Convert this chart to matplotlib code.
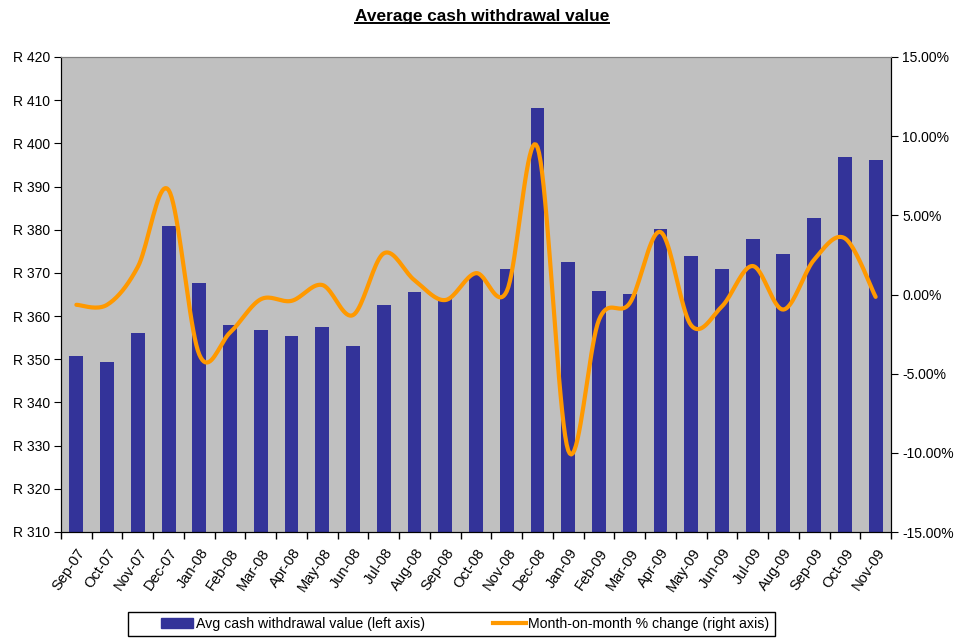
import numpy as np
import matplotlib
matplotlib.use("Agg")
import matplotlib.pyplot as plt
from matplotlib.lines import Line2D
from matplotlib.patches import Patch, Rectangle
from matplotlib.ticker import FuncFormatter, FixedLocator

plt.rcParams['font.family'] = ['Liberation Sans', 'DejaVu Sans']

months = ["Sep-07", "Oct-07", "Nov-07", "Dec-07", "Jan-08", "Feb-08", "Mar-08",
          "Apr-08", "May-08", "Jun-08", "Jul-08", "Aug-08", "Sep-08", "Oct-08",
          "Nov-08", "Dec-08", "Jan-09", "Feb-09", "Mar-09", "Apr-09", "May-09",
          "Jun-09", "Jul-09", "Aug-09", "Sep-09", "Oct-09", "Nov-09"]
avg_value = [350.8, 349.4, 356.0, 380.8, 367.6, 358.0, 356.7, 355.4, 357.5, 353.0,
             362.6, 365.5, 364.0, 369.5, 370.8, 408.3, 372.5, 365.9, 365.1, 380.2,
             373.9, 370.8, 377.8, 374.4, 382.8, 396.8, 396.2]
mom_change = [-0.65, -0.65, 1.75, 6.6, -3.8, -2.4, -0.3, -0.4, 0.6, -1.3,
              2.6, 0.9, -0.35, 1.35, 0.2, 9.3, -9.85, -1.6, -0.55, 3.95,
              -1.95, -0.75, 1.8, -0.95, 2.2, 3.55, -0.15]

left_ticks = list(range(310, 421, 10))
right_ticks = [-15, -10, -5, 0, 5, 10, 15]

title = "Average cash withdrawal value"
bar_label = "Avg cash withdrawal value (left axis)"
line_label = "Month-on-month % change (right axis)"

bar_color = "#333399"
line_color = "#FF9900"
bg_color = "#C0C0C0"


def smooth_curve(x, y, n=20):
    x = np.asarray(x, float)
    y = np.asarray(y, float)
    px = np.concatenate([[x[0]], x, [x[-1]]])
    py = np.concatenate([[y[0]], y, [y[-1]]])
    xs, ys = [], []
    t = np.linspace(0, 1, n, endpoint=False)
    for i in range(1, len(px) - 2):
        p0x, p1x, p2x, p3x = px[i - 1:i + 3]
        p0y, p1y, p2y, p3y = py[i - 1:i + 3]
        c1x = p1x + (p2x - p0x) / 6
        c1y = p1y + (p2y - p0y) / 6
        c2x = p2x - (p3x - p1x) / 6
        c2y = p2y - (p3y - p1y) / 6
        bx = (1 - t) ** 3 * p1x + 3 * (1 - t) ** 2 * t * c1x + 3 * (1 - t) * t ** 2 * c2x + t ** 3 * p2x
        by = (1 - t) ** 3 * p1y + 3 * (1 - t) ** 2 * t * c1y + 3 * (1 - t) * t ** 2 * c2y + t ** 3 * p2y
        xs.append(bx)
        ys.append(by)
    xs.append([x[-1]])
    ys.append([y[-1]])
    return np.concatenate(xs), np.concatenate(ys)


W, H = 956, 638
fig = plt.figure(figsize=(W / 100, H / 100), dpi=100)
ax = fig.add_axes([61 / W, 1 - 532 / H, (891 - 61) / W, (532 - 57) / H])
ax.set_facecolor(bg_color)

x = np.arange(len(months))
ax.bar(x, avg_value, width=0.45, color=bar_color, zorder=2)
ax.set_xlim(-0.5, len(months) - 0.5)
ax.set_ylim(left_ticks[0], left_ticks[-1])
ax.set_yticks(left_ticks)
ax.yaxis.set_major_formatter(FuncFormatter(lambda v, p: f"R {v:.0f}"))

ax.set_xticks(x)
ax.set_xticklabels(months, rotation=56, ha='right', va='top',
                   rotation_mode='anchor', fontsize=10.5)
ax.tick_params(axis='x', which='major', length=0, pad=10)
ax.xaxis.set_minor_locator(FixedLocator(np.arange(-0.5, len(months), 1.0)))
ax.tick_params(axis='x', which='minor', length=5, direction='out', width=1)
ax.tick_params(axis='y', length=5, direction='out', labelsize=10, pad=3)

ax2 = ax.twinx()
sx, sy = smooth_curve(x, mom_change)
ax2.plot(sx, sy, color=line_color, lw=3, solid_capstyle='round', zorder=3)
ax2.set_ylim(right_ticks[0], right_ticks[-1])
ax2.set_yticks(right_ticks)
ax2.yaxis.set_major_formatter(FuncFormatter(lambda v, p: f"{v:.2f}%"))
ax2.tick_params(axis='y', length=5, direction='out', labelsize=10, pad=3)

for a in (ax, ax2):
    a.spines['top'].set_color('#808080')
    for s in ('left', 'right', 'bottom'):
        a.spines[s].set_color('black')

# legend box
fig.add_artist(Rectangle((128 / W, 1 - 636 / H), (775 - 128) / W, 24 / H,
                         transform=fig.transFigure, facecolor='white',
                         edgecolor='black', lw=1.0))
handles = [Patch(facecolor=bar_color, edgecolor=bar_color),
           Line2D([0], [0], color=line_color, lw=3)]
leg = fig.legend(handles, [bar_label, line_label], loc='center',
                 bbox_to_anchor=(465 / W, 1 - 624 / H), ncol=2, fontsize=10.2,
                 frameon=False, handlelength=2.3, handletextpad=0.2,
                 columnspacing=4.8, borderaxespad=0, borderpad=0)

t = fig.text(482 / W, 1 - 16 / H, title, ha='center', va='center',
             fontsize=12.4, fontweight='bold')
fig.canvas.draw()
bb = t.get_window_extent().transformed(fig.transFigure.inverted())
fig.add_artist(Line2D([bb.x0, bb.x1], [bb.y0 + 0.001, bb.y0 + 0.001],
                      transform=fig.transFigure, color='black', lw=1.4))

fig.savefig("out.png", dpi=100)
